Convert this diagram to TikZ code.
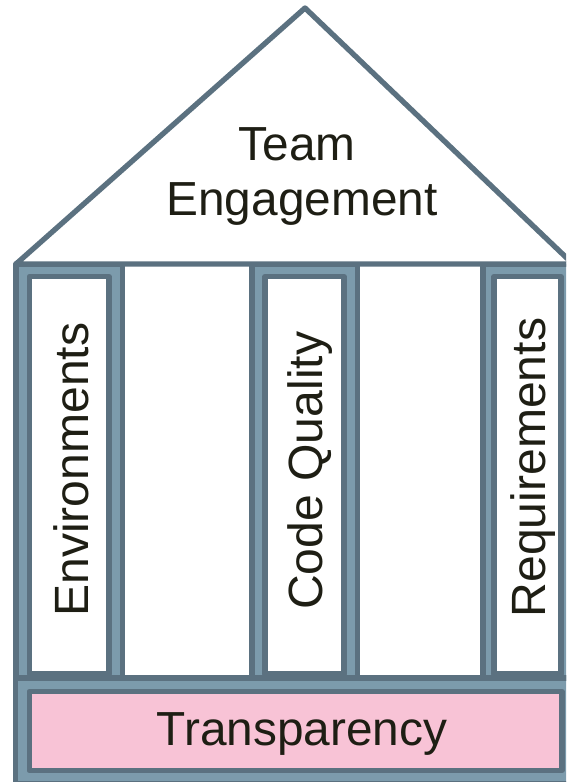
\documentclass[tikz,border=0pt]{standalone}
\usepackage{fontspec}
\setmainfont{Liberation Sans}
\definecolor{frameline}{HTML}{5B7180}
\definecolor{framefill}{HTML}{7C9BAC}
\definecolor{panelpink}{HTML}{F8C3D6}
\definecolor{inktext}{HTML}{1E1E14}
\tikzset{
  outerbox/.style={draw=frameline,fill=framefill,line width=5.3pt,line join=round},
  innerbox/.style={draw=frameline,fill=white,line width=5.3pt,line join=round},
  pinkbox/.style={draw=frameline,fill=panelpink,line width=5.3pt,line join=round},
  roofshape/.style={draw=frameline,fill=white,line width=5.3pt,line join=round},
  label/.style={text=inktext,font=\fontsize{47.8pt}{55pt}\selectfont,inner sep=0pt,outer sep=0pt,anchor=base},
  vlabel/.style={label,font=\fontsize{48.1pt}{55pt}\selectfont,rotate=90}
}
\begin{document}
\begin{tikzpicture}[x=1pt,y=-1pt]
\clip (0,0) rectangle (566,782);
\fill[white] (0,0) rectangle (566,782);
% pillars
\draw[outerbox] (16,264) rectangle (122.5,678);
\draw[innerbox] (29.5,276.5) rectangle (109,674);
\draw[outerbox] (252,264) rectangle (357.5,678);
\draw[innerbox] (265,276.5) rectangle (344,674);
\draw[outerbox] (483,264) rectangle (590,678);
\draw[innerbox] (494,276.5) rectangle (561,674);
% roof
\draw[roofshape] (16,264) -- (305,8) -- (573,264) -- cycle;
% base
\draw[outerbox] (15.5,678) rectangle (590,783.5);
\draw[pinkbox] (29.2,691.5) rectangle (562,770.5);
% texts
\node[label] (team) at (297,160) {Team};
\node[label] (engagement) at (302,215.7) {Engagement};
\node[vlabel] (environments) at (88,469.7) {Environments};
\node[vlabel] (codequality) at (322,470.7) {Code Quality};
\node[vlabel] (requirements) at (545.3,467.6) {Requirements};
\node[label] (transparency) at (302,745.8) {Transparency};
\end{tikzpicture}
\end{document}
